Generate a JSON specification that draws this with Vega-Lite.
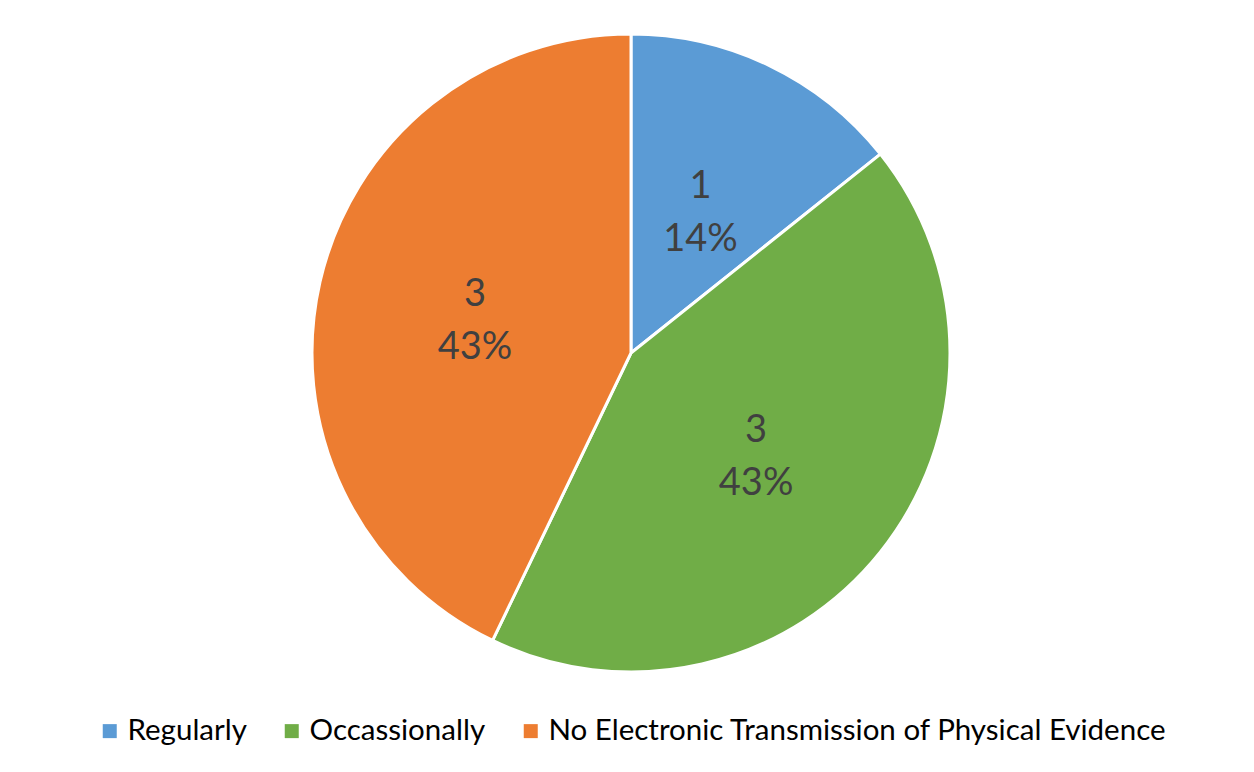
{
  "$schema": "https://vega.github.io/schema/vega-lite/v6.json",
  "width": 1252,
  "height": 698,
  "autosize": {"type": "none"},
  "padding": {"left": 5, "top": 4, "right": 0, "bottom": 70},
  "background": "white",
  "config": {
    "view": {"stroke": null},
    "legend": {"layout": {"bottom": {"anchor": "middle"}}}
  },
  "data": {
    "values": [
      {"idx": 1, "category": "Regularly", "count": 1, "pct": "14%"},
      {"idx": 2, "category": "Occassionally", "count": 3, "pct": "43%"},
      {"idx": 3, "category": "No Electronic Transmission of Physical Evidence", "count": 3, "pct": "43%"}
    ]
  },
  "encoding": {
    "theta": {"field": "count", "type": "quantitative", "stack": true},
    "order": {"field": "idx", "type": "quantitative"}
  },
  "layer": [
    {
      "mark": {"type": "arc", "outerRadius": 319, "stroke": "white", "strokeWidth": 3},
      "encoding": {
        "color": {
          "field": "category",
          "type": "nominal",
          "sort": ["Regularly", "Occassionally", "No Electronic Transmission of Physical Evidence"],
          "scale": {
            "domain": ["Regularly", "Occassionally", "No Electronic Transmission of Physical Evidence"],
            "range": ["#5B9BD5", "#70AD47", "#ED7D31"]
          },
          "legend": {
            "title": null,
            "orient": "bottom",
            "direction": "horizontal",
            "offset": 14,
            "symbolType": "square",
            "symbolSize": 196,
            "symbolStrokeWidth": 0,
            "labelFont": "Lato",
            "labelFontSize": 29.5,
            "labelColor": "#000000",
            "labelLimit": 900,
            "labelOffset": 3,
            "columnPadding": 30
          }
        }
      }
    },
    {
      "mark": {"type": "text", "radius": 160, "dy": -22, "font": "Lato", "fontSize": 38, "color": "#404040", "baseline": "middle"},
      "encoding": {"text": {"field": "count", "type": "quantitative"}}
    },
    {
      "mark": {"type": "text", "radius": 160, "dy": 31, "font": "Lato", "fontSize": 38, "color": "#404040", "baseline": "middle"},
      "encoding": {"text": {"field": "pct", "type": "nominal"}}
    }
  ]
}
